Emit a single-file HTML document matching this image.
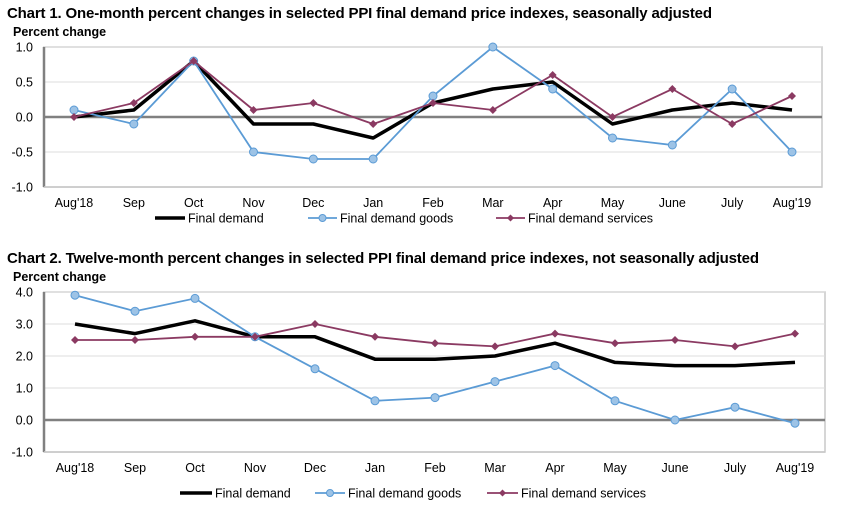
<!DOCTYPE html>
<html><head><meta charset="utf-8"><style>
body{margin:0;background:#fff;width:848px;height:506px;overflow:hidden}
svg{font-family:"Liberation Sans",Arial,sans-serif}
</style></head><body>
<svg id="s" width="848" height="506">
<text x="7" y="18" font-size="15" font-weight="bold" textLength="705">Chart 1. One-month percent changes in selected PPI final demand price indexes, seasonally adjusted</text>
<text x="13" y="36" font-size="12.5" font-weight="bold">Percent change</text>
<text x="7" y="263" font-size="15" font-weight="bold" textLength="752">Chart 2. Twelve-month percent changes in selected PPI final demand price indexes, not seasonally adjusted</text>
<text x="13" y="281" font-size="12.5" font-weight="bold">Percent change</text>
</svg>
<script>
const months=["Aug'18","Sep","Oct","Nov","Dec","Jan","Feb","Mar","Apr","May","June","July","Aug'19"];
const c1Final=[0,0.1,0.8,-0.1,-0.1,-0.3,0.2,0.4,0.5,-0.1,0.1,0.2,0.1];
const c1Goods=[0.1,-0.1,0.8,-0.5,-0.6,-0.6,0.3,1.0,0.4,-0.3,-0.4,0.4,-0.5];
const c1Services=[0,0.2,0.8,0.1,0.2,-0.1,0.2,0.1,0.6,0,0.4,-0.1,0.3];
const c1Ticks=[1.0,0.5,0.0,-0.5,-1.0];
const c2Final=[3.0,2.7,3.1,2.6,2.6,1.9,1.9,2.0,2.4,1.8,1.7,1.7,1.8];
const c2Goods=[3.9,3.4,3.8,2.6,1.6,0.6,0.7,1.2,1.7,0.6,0.0,0.4,-0.1];
const c2Services=[2.5,2.5,2.6,2.6,3.0,2.6,2.4,2.3,2.7,2.4,2.5,2.3,2.7];
const c2Ticks=[4.0,3.0,2.0,1.0,0.0,-1.0];
const NS="http://www.w3.org/2000/svg";
const svg=document.getElementById('s');
function mk(t,a,p){const e=document.createElementNS(NS,t);for(const k in a)e.setAttribute(k,a[k]);(p||svg).appendChild(e);return e;}
const BLUE="#5b9bd5",BLUEF="#9dc3e6",PLUM="#8b3a62";
function chart(cfg){
  const {id,L,R,T,B,ymin,ymax,x0,x1,ticks,fin,goods,serv,xlY,leg}=cfg;
  const g=mk('g',{});
  
  
  const y=v=>B-(v-ymin)/(ymax-ymin)*(B-T);
  const x=i=>x0+i*(x1-x0)/(months.length-1);
  mk('rect',{x:L,y:T,width:R-L,height:B-T,fill:'#fff',stroke:'#c8c8c8','stroke-width':1.5},g);
  ticks.forEach(t=>{
    if(t!==0&&t!==ymin){const l=mk('line',{x1:L,x2:R,y1:y(t),y2:y(t),stroke:'#dcdcdc','stroke-width':1},g);
      }
    const tx=mk('text',{x:L-11,y:y(t)+4.5,'font-size':12.5,'text-anchor':'end'},g);
    tx.textContent=t.toFixed(1);
    
    
  });
  mk('line',{x1:L,x2:L,y1:T,y2:B,stroke:'#808080','stroke-width':2.5},g);
  mk('line',{x1:L,x2:R,y1:B,y2:B,stroke:'#c8c8c8','stroke-width':1.5},g);
  const z=mk('line',{x1:L,x2:R,y1:y(0),y2:y(0),stroke:'#808080','stroke-width':2.5},g);
  
  months.forEach((m,i)=>{const t=mk('text',{x:x(i),y:xlY,'font-size':12.5,'text-anchor':'middle'},g);t.textContent=m;
    });
  const pts=a=>a.map((v,i)=>x(i)+','+y(v)).join(' ');
  const pf=mk('polyline',{points:pts(fin),fill:'none',stroke:'#000','stroke-width':3.5,'stroke-linejoin':'round'},g);
  
  const pg=mk('polyline',{points:pts(goods),fill:'none',stroke:BLUE,'stroke-width':1.8},g);
  
  goods.forEach((v,i)=>{const c=mk('circle',{cx:x(i),cy:y(v),r:4,fill:BLUEF,stroke:BLUE,'stroke-width':1},g);
    });
  const ps=mk('polyline',{points:pts(serv),fill:'none',stroke:PLUM,'stroke-width':1.8},g);
  
  serv.forEach((v,i)=>{const X=x(i),Y=y(v);const d=mk('polygon',{points:`${X},${Y-4} ${X+4},${Y} ${X},${Y+4} ${X-4},${Y}`,fill:PLUM},g);
    });
  // legend
  const ly=leg.y;
  const e1=mk('line',{x1:leg.a[0],x2:leg.a[1],y1:ly,y2:ly,stroke:'#000','stroke-width':3.5},g);
  
  let t=mk('text',{x:leg.a[1]+3,y:ly+4.5,'font-size':12.5},g);t.textContent='Final demand';
  
  mk('line',{x1:leg.b[0],x2:leg.b[1],y1:ly,y2:ly,stroke:BLUE,'stroke-width':1.8},g);
  const c=mk('circle',{cx:(leg.b[0]+leg.b[1])/2,cy:ly,r:3.5,fill:BLUEF,stroke:BLUE},g);
  
  t=mk('text',{x:leg.b[1]+3,y:ly+4.5,'font-size':12.5},g);t.textContent='Final demand goods';
  
  mk('line',{x1:leg.c[0],x2:leg.c[1],y1:ly,y2:ly,stroke:PLUM,'stroke-width':1.8},g);
  const X=(leg.c[0]+leg.c[1])/2;
  const d=mk('polygon',{points:`${X},${ly-3.5} ${X+3.5},${ly} ${X},${ly+3.5} ${X-3.5},${ly}`,fill:PLUM},g);
  
  t=mk('text',{x:leg.c[1]+3,y:ly+4.5,'font-size':12.5},g);t.textContent='Final demand services';
  
}
chart({id:'chart1',L:44,R:822,T:47,B:187,ymin:-1,ymax:1,x0:74,x1:792,ticks:c1Ticks,fin:c1Final,goods:c1Goods,serv:c1Services,xlY:207,
  leg:{y:218,a:[155,185],b:[308,337],c:[496,525]}});
chart({id:'chart2',L:44,R:825,T:292,B:452,ymin:-1,ymax:4,x0:75,x1:795,ticks:c2Ticks,fin:c2Final,goods:c2Goods,serv:c2Services,xlY:472,
  leg:{y:493,a:[180,212],b:[315,345],c:[487,518]}});
</script>
</body></html>
